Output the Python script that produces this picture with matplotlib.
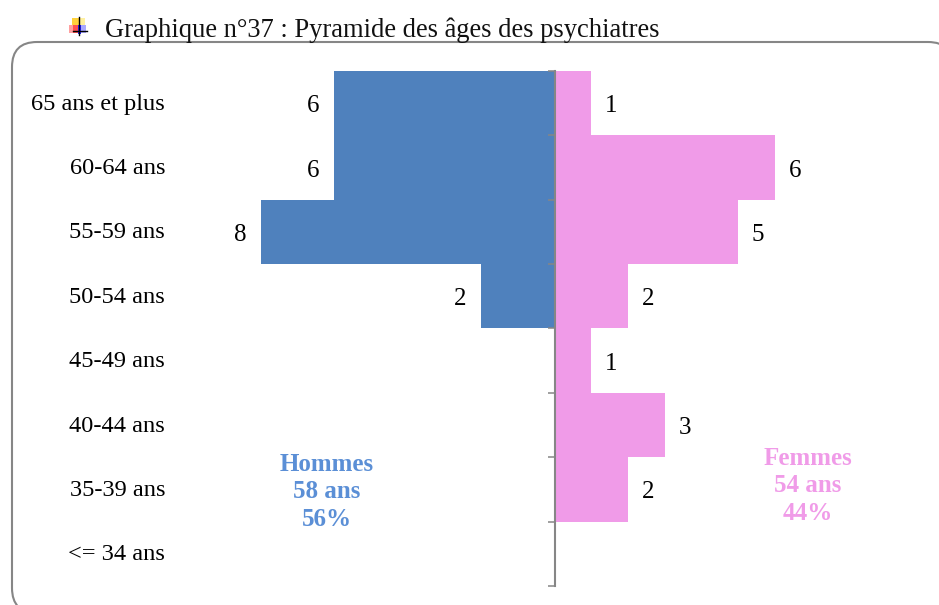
import matplotlib
matplotlib.use("Agg")
import matplotlib.pyplot as plt
from matplotlib.patches import FancyBboxPatch, Rectangle
from matplotlib.lines import Line2D

categories = ["65 ans et plus", "60-64 ans", "55-59 ans", "50-54 ans",
              "45-49 ans", "40-44 ans", "35-39 ans", "<= 34 ans"]
hommes = [6, 6, 8, 2, 0, 0, 0, 0]
femmes = [1, 6, 5, 2, 1, 3, 2, 0]
title = "Graphique n°37 : Pyramide des âges des psychiatres"
note_h = "Hommes\n58 ans\n56%"
note_f = "Femmes\n54 ans\n44%"

BLUE = "#4F81BD"
PINK = "#F09BE8"
GREY = "#868686"
W, H = 939, 605
plt.rcParams["font.family"] = ["Liberation Serif", "DejaVu Serif"]

fig = plt.figure(figsize=(W / 100, H / 100), dpi=100)
bg = fig.add_axes([0, 0, 1, 1])
bg.set_xlim(0, W)
bg.set_ylim(H, 0)
bg.axis("off")
bg.add_patch(FancyBboxPatch((12 + 25, 42 + 25), 953 - 12 - 50, 613 - 42 - 50,
                            boxstyle="round,pad=25,rounding_size=25",
                            fc="white", ec=GREY, lw=1.5))
for (x, y, w, h, c) in [(72, 18, 7, 7, "#FFD23C"), (79, 18, 6, 7, "#FFF0A0"),
                        (69, 25, 4, 8, "#FFA0A0"), (73, 25, 5, 8, "#FF5050"),
                        (78, 25, 3, 9, "#2020FF"), (81, 25, 5, 8, "#A8A8FF")]:
    bg.add_patch(Rectangle((x, y), w, h, fc=c, ec="none"))
bg.add_line(Line2D([79, 79], [17, 35], color="black", lw=1))
bg.add_line(Line2D([73, 87], [31, 31], color="black", lw=1))
bg.text(105, 30, title, fontsize=19.1, va="center", ha="left", color="#111111")

x0, x1, y0, y1 = 200, 900, 71, 586
ax = fig.add_axes([x0 / W, 1 - y1 / H, (x1 - x0) / W, (y1 - y0) / H])
ax.patch.set_alpha(0)
u = 36.7
ax.set_xlim((x0 - 554.5) / u, (x1 - 554.5) / u)
ax.set_ylim(len(categories) - 0.5, -0.5)
pos = list(range(len(categories)))
ax.barh(pos, [-v for v in hommes], height=1, color=BLUE, lw=0)
ax.barh(pos, femmes, height=1, color=PINK, lw=0)

for s in ("top", "right", "bottom"):
    ax.spines[s].set_visible(False)
ax.spines["left"].set_position(("data", 0))
ax.spines["left"].set_color(GREY)
ax.spines["left"].set_linewidth(1.5)
ax.set_xticks([])
ax.set_yticks([p - 0.5 for p in pos] + [len(pos) - 0.5])
ax.set_yticklabels([])
ax.tick_params(axis="y", length=5, width=1.1, color=GREY, direction="out")

for p, c, h, f in zip(pos, categories, hommes, femmes):
    ax.annotate(c, xy=(0, p), xycoords=("axes fraction", "data"), xytext=(-35, -1),
                textcoords="offset pixels", ha="right", va="center", fontsize=17.6)
    if h:
        ax.annotate(str(h), xy=(-h, p), xytext=(-21, -3), textcoords="offset pixels",
                    ha="center", va="center", fontsize=18)
    if f:
        ax.annotate(str(f), xy=(f, p), xytext=(20, -3), textcoords="offset pixels",
                    ha="center", va="center", fontsize=18)

bg.text(326.5, 492, note_h, color="#5B8FD6", fontweight="bold", fontsize=18,
        ha="center", va="center", linespacing=1.25)
bg.text(808, 486, note_f, color=PINK, fontweight="bold", fontsize=18,
        ha="center", va="center", linespacing=1.25)

fig.savefig("out.png", dpi=100)
